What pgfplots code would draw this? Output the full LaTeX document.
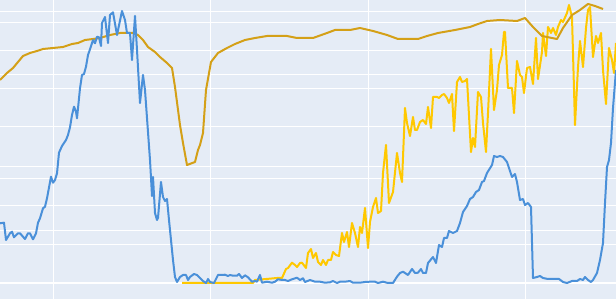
\documentclass[border=0pt]{standalone}
\usepackage{pgfplots}
\pgfplotsset{compat=1.18}
\definecolor{bgc}{RGB}{229,236,246}
\definecolor{sblue}{RGB}{74,144,217}
\definecolor{sgold}{RGB}{212,160,23}
\definecolor{syellow}{RGB}{255,200,0}
\begin{document}
\begin{tikzpicture}
\begin{axis}[
  scale only axis, width=616pt, height=299pt,
  xmin=0, xmax=616, ymin=-16, ymax=283,
  axis background/.style={fill=bgc},
  axis line style={draw=none},
  major tick length=0pt,
  xtick={53,210.5,368,525.5},
  ytick={52,104,156,208,260},
  extra y ticks={38.8,77.6,116.4,194,232.8,271.6},
  xticklabels={}, yticklabels={}, extra y tick labels={},
  grid=major,
  grid style={white, line width=1pt},
  extra y tick style={grid=major, grid style={white, line width=1pt}},
  clip=true,
  every axis plot/.append style={line width=2pt, line join=round, mark=none},
]
\addplot[white, line width=2.2pt, forget plot] coordinates {(0,0) (616,0)};
\addplot[syellow] coordinates {
(182,0)(200,0)(230,0)(253,0)(255,3)(263,3.7)(277,5)(282,5)(286,14)(288,15)(292,20.3)(295,18)(297,16)(300,20)(302,20.3)(306,15)(308,30)(311,34)(313,25)(316,30)(318,21)(321,18)(323,23)(326,18)(328,23)(331,23)(333,31)(336,28)(339,27)(342,50)(344,41)(347,51)(349,36)(352,60)(355,50)(358,36)(360,56)(362,50)(365,75)(368,35)(370,61)(373,76)(376,85)(378,70)(381,72)(383,110)(386,138)(389,80)(393,91)(397,130)(400,110)(402,101)(405,175)(407,160)(410,147)(413,166)(415,153)(417,153)(420,161)(423,163)(426,159)(428,176)(431,155)(433,186)(437,186)(439,185)(442,188)(444,189)(447,185)(449,180)(452,189)(454,152)(457,201)(460,206)(462,201)(465,202)(467,204)(471,131)(473,145)(475,136)(478,191)(481,186)(483,160)(486,131)(488,170)(491,234)(494,173)(497,193)(499,218)(502,228)(504,251)(505,251)(508,195)(512,195)(514,170)(517,222)(520,208)(522,206)(524,190)(527,215)(530,216)(533,199)(536,245)(538,204)(542,231)(543,250)(546,227)(548,256)(551,250)(553,255)(556,248)(558,256)(561,263)(563,261)(567,270)(569,278)(572,266)(575,158)(578,216)(580,242)(583,216)(586,255)(588,273)(590,276)(593,226)(596,247)(598,240)(601,250)(603,213)(606,179)(609,235)(612,223)(614,210)(616,240)
};
\addplot[sgold] coordinates {
(0,203)(7,210)(13,215)(18,221)(23,227)(30,230)(37,232)(43,234)(53,235)(63,236)(72,239)(78,240)(85,243)(93,244)(100,245)(110,248)(120,250)(133,250)(138,248)(143,243)(148,236)(155,231)(160,226)(167,220)(172,215)(175,196)(180,158)(183,140)(187,118)(195,121)(198,133)(200,138)(203,150)(206,193)(211,221)(218,230)(227,235)(235,239)(245,243)(255,245)(267,247)(287,247)(297,245)(313,245)(327,250)(335,253)(350,253)(360,255)(373,252)(387,248)(398,244)(418,244)(427,247)(438,250)(455,253)(470,256)(478,259)(487,262)(500,263)(517,262)(525,265)(533,256)(542,247)(557,244)(563,255)(572,268)(580,273)(588,279)(595,277)(603,274)
};
\addplot[sblue] coordinates {
(0,59.7)(4,60.3)(6,43)(10,49.7)(12,51.3)(14,45.7)(18,49.7)(20,49.7)(25,44)(28,49.7)(30,49.7)(33,43.7)(36,49.7)(38,60.3)(40,64.7)(43,74.7)(45,76.3)(47,84.7)(51,106.3)(53,100.3)(55,103)(57,109.7)(59,130.3)(62,137)(66,143)(68,148)(70,155.7)(72,168)(74,176.3)(76,171.3)(77,164.7)(80,194.7)(82,208)(84,209)(86,216.3)(88,228)(90,233.7)(93,243)(95,239.7)(97,246.3)(99,245.7)(101,237)(102,260)(105,266)(108,240)(110,268)(113,270.7)(117,248)(122,272)(125,263)(127,250)(130,250)(132,223)(135,267)(137,233)(140,180)(143,208)(145,193)(150,123)(152,87)(153,106)(155,70)(157,63)(158,65)(161,101)(163,86)(165,82)(167,84)(169,63)(173,23)(175,6)(177,1)(180,6)(183,8)(186,8)(188,3)(190,6)(194,9)(197,8)(200,5)(203,2)(206,0)(208,4)(210,1)(214,0)(218,8)(222,8)(225,8.3)(228,7)(230,8)(233,7.3)(237,7.3)(239,9)(242,5)(245,7.7)(248,5.7)(252,1.3)(255,2)(257,1.3)(260,8)(262,0.3)(267,1.3)(272,0.3)(275,1.3)(278,3.7)(282,3)(285,3)(288,2)(292,3.7)(297,5.3)(300,3)(303,4.7)(305,1)(310,3)(315,1.3)(320,1.3)(325,0.3)(330,0.7)(333,2)(337,0)(340,1.3)(345,1.3)(350,2)(353,0.3)(360,0.3)(365,1)(370,1.3)(375,1.3)(378,0)(383,1.3)(388,0)(393,0)(397,6.3)(400,10)(403,11.3)(408,8)(412,14)(415,10)(418,10.3)(421,14)(423,10)(426,10)(428,20)(433,26)(436,20)(439,38)(442,36)(444,45)(447,45)(449,52)(453,50)(457,52)(460,60)(463,71)(467,77)(470,84)(473,86)(476,91)(479,93)(482,101)(484,102)(487,110)(492,118)(494,127)(497,126)(500,127)(503,126)(507,121)(512,106)(515,109)(517,101)(520,83)(523,84)(525,78)(528,80)(531,76)(533,5)(537,6)(540,7)(543,5)(548,4)(553,4)(559,4)(563,1)(567,0)(572,2)(577,2)(580,4)(583,3)(585,6)(588,3)(591,1)(593,3)(597,10)(600,23)(603,40)(605,80)(607,116)(609,123)(611,140)(613,175)(616,213)
};
\end{axis}
\pgfresetboundingbox
\path (current axis.south west) rectangle (current axis.north east);
\end{tikzpicture}
\end{document}
